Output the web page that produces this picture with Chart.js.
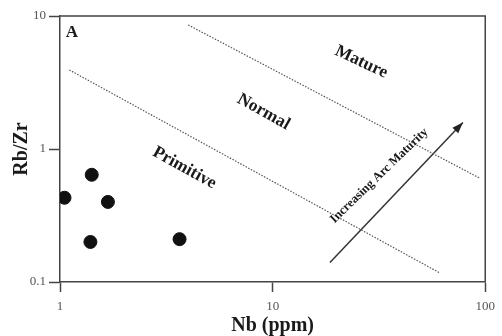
<!DOCTYPE html>
<html>
<head>
<meta charset="utf-8">
<script src="https://cdn.jsdelivr.net/npm/chart.js@4"></script>
<style>
html,body{margin:0;padding:0;background:#fff;}
#wrap{width:502px;height:336px;position:relative;}
</style>
</head>
<body>
<div id="wrap"><canvas id="c" width="502" height="336"></canvas></div>
<script>
// ---- data ----
const sampleNb   = [1.05, 1.41, 1.68, 1.39, 3.65];
const sampleRbZr = [0.43, 0.64, 0.40, 0.20, 0.21];

const primitiveLineNb   = [1.106, 61.1];
const primitiveLineRbZr = [3.93, 0.117];
const matureLineNb      = [4.01, 94.5];
const matureLineRbZr    = [8.56, 0.602];
const arrowNb           = [18.6, 78.5];
const arrowRbZr         = [0.14, 1.58];

const xTickValues = [1, 10, 100];
const xTickLabels = ['1', '10', '100'];
const yTickValues = [0.1, 1, 10];
const yTickLabels = ['0.1', '1', '10'];

const fieldNames  = ['Mature', 'Normal', 'Primitive', 'Increasing Arc Maturity', 'A'];
const fieldNb     = [26.1, 9.06, 3.85, 31.7, 1.065];
const fieldRbZr   = [4.51, 1.90, 0.72, 0.63, 7.45];

// ---- styles ----
const SERIF = '"Liberation Serif", "DejaVu Serif", serif';
const fieldStyle = [
  {size: 17.5, rot: 25, align: 'center'},
  {size: 17.5, rot: 29, align: 'center'},
  {size: 17.5, rot: 29, align: 'center'},
  {size: 12.5, rot: -44, align: 'center'},
  {size: 17, rot: 0, align: 'left'}
];

const toPts = (xs, ys) => xs.map((x, i) => ({x: x, y: ys[i]}));

const framePlugin = {
  id: 'frame',
  afterDatasetsDraw(chart) {
    const {ctx, chartArea: a, scales} = chart;
    ctx.save();
    ctx.strokeStyle = '#444';
    ctx.lineWidth = 1.5;
    ctx.beginPath();
    ctx.moveTo(a.left, a.top);
    ctx.lineTo(a.right, a.top);
    ctx.lineTo(a.right, a.bottom);
    ctx.stroke();

    // arrow head
    const meta = chart.getDatasetMeta(3);
    const p0 = meta.data[0], p1 = meta.data[1];
    const ang = Math.atan2(p1.y - p0.y, p1.x - p0.x);
    const L = 11, W = 4;
    ctx.fillStyle = '#222';
    ctx.beginPath();
    ctx.moveTo(p1.x, p1.y);
    ctx.lineTo(p1.x - L * Math.cos(ang) + W * Math.sin(ang), p1.y - L * Math.sin(ang) - W * Math.cos(ang));
    ctx.lineTo(p1.x - L * Math.cos(ang) - W * Math.sin(ang), p1.y - L * Math.sin(ang) + W * Math.cos(ang));
    ctx.closePath();
    ctx.fill();

    // field labels
    fieldNames.forEach((t, i) => {
      const st = fieldStyle[i];
      const px = scales.x.getPixelForValue(fieldNb[i]);
      const py = scales.y.getPixelForValue(fieldRbZr[i]);
      ctx.save();
      ctx.translate(px, py);
      ctx.rotate(st.rot * Math.PI / 180);
      ctx.font = 'bold ' + st.size + 'px ' + SERIF;
      ctx.fillStyle = '#1a1a1a';
      ctx.textAlign = st.align;
      ctx.textBaseline = 'middle';
      ctx.fillText(t, 0, 0);
      ctx.restore();
    });
    ctx.restore();
  }
};

new Chart(document.getElementById('c'), {
  type: 'scatter',
  data: {
    datasets: [
      {
        data: toPts(sampleNb, sampleRbZr),
        backgroundColor: '#111',
        borderColor: '#111',
        pointRadius: 6.5,
        pointHoverRadius: 6.5
      },
      {
        data: toPts(primitiveLineNb, primitiveLineRbZr),
        showLine: true, pointRadius: 0,
        borderColor: '#555', borderWidth: 1.2, borderDash: [1.5, 1.5]
      },
      {
        data: toPts(matureLineNb, matureLineRbZr),
        showLine: true, pointRadius: 0,
        borderColor: '#555', borderWidth: 1.2, borderDash: [1.5, 1.5]
      },
      {
        data: toPts(arrowNb, arrowRbZr),
        showLine: true, pointRadius: 0,
        borderColor: '#333', borderWidth: 1.5
      }
    ]
  },
  options: {
    responsive: false,
    animation: false,
    events: [],
    layout: {padding: {top: 16, right: 9, left: 0, bottom: 0}},
    plugins: {legend: {display: false}, tooltip: {enabled: false}},
    scales: {
      x: {
        type: 'logarithmic',
        min: 1, max: 100,
        afterBuildTicks: s => { s.ticks = xTickValues.map(v => ({value: v})); },
        afterFit: s => { s.height = 54; },
        ticks: {
          autoSkip: false, maxRotation: 0,
          callback: (v) => { const i = xTickValues.indexOf(v); return i >= 0 ? xTickLabels[i] : ''; },
          font: {family: SERIF, size: 13}, color: '#555', padding: 7
        },
        grid: {drawOnChartArea: false, drawTicks: true, tickLength: 10, tickColor: '#444', tickWidth: 1.5},
        border: {display: true, color: '#444', width: 1.5},
        title: {
          display: true, text: 'Nb (ppm)',
          font: {family: SERIF, size: 20, weight: 'bold', lineHeight: 1},
          color: '#1a1a1a', padding: {top: 1, bottom: 0}
        }
      },
      y: {
        type: 'logarithmic',
        min: 0.1, max: 10,
        afterBuildTicks: s => { s.ticks = yTickValues.map(v => ({value: v})); },
        afterFit: s => { s.width = 60; },
        ticks: {
          autoSkip: false,
          callback: (v) => { const i = yTickValues.findIndex(t => Math.abs(t - v) < 1e-9); return i >= 0 ? yTickLabels[i] : ''; },
          font: {family: SERIF, size: 13}, color: '#555', padding: 3
        },
        grid: {drawOnChartArea: false, drawTicks: true, tickLength: 11, tickColor: '#444', tickWidth: 1.5},
        border: {display: true, color: '#444', width: 1.5},
        title: {
          display: true, text: 'Rb/Zr',
          font: {family: SERIF, size: 20, weight: 'bold', lineHeight: 1},
          color: '#1a1a1a', padding: {top: 12, bottom: 0}
        }
      }
    }
  },
  plugins: [framePlugin]
});
</script>
</body>
</html>
